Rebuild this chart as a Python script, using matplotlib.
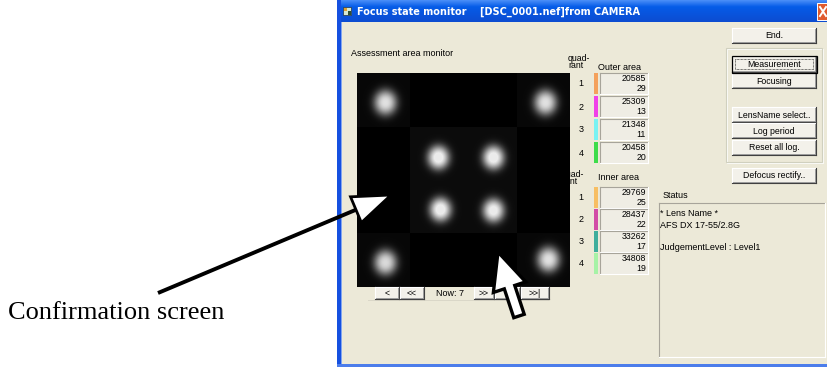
import numpy as np
import matplotlib
matplotlib.use("Agg")
import matplotlib.pyplot as plt
from matplotlib.patches import Rectangle, Polygon

# ---------------- data ----------------
title_text = "Focus state monitor    [DSC_0001.nef]from CAMERA"
quadrants = ["1", "2", "3", "4"]
outer_values = [20585, 25309, 21348, 20458]
outer_counts = [29, 13, 11, 20]
outer_colors = ["#F4A15C", "#F040E8", "#78F2F2", "#3EDC4A"]
inner_values = [29769, 28437, 33262, 34808]
inner_counts = [25, 22, 17, 19]
inner_colors = ["#F7BE62", "#D24CA6", "#3FAE9C", "#A6F2A6"]
right_buttons = ["End.", "Measurement", "Focusing", "LensName select..", "Log period",
                 "Reset all log.", "Defocus rectify.."]
nav_buttons = ["<", "<<", ">>", ">", ">>|"]
nav_label = "Now: 7"
status_lines = ["* Lens Name *", "AFS DX 17-55/2.8G", "", "JudgementLevel : Level1"]
blob_x = [385, 545, 385, 548, 438, 493, 440, 493]
blob_y = [102, 102, 262, 259, 157, 157, 209, 210]
blob_peak = [0.85, 0.85, 0.82, 0.85, 0.95, 0.95, 0.95, 0.92]
caption = "Confirmation screen"

BG = "#ECE9D8"
UI = "Liberation Sans"

fig = plt.figure(figsize=(8.27, 3.67), dpi=100)
ax = fig.add_axes([0, 0, 1, 1])
ax.set_xlim(0, 827)
ax.set_ylim(367, 0)
ax.axis("off")

# ---------------- window ----------------
ax.add_patch(Rectangle((337, 0), 490, 367, fc=BG, ec="none", zorder=0))
top = np.array([0.28, 0.55, 0.97]); mid = np.array([0.02, 0.36, 0.91]); bot = np.array([0.05, 0.30, 0.82])
cols = np.zeros((22, 2, 3))
for i in range(22):
    t = i / 21
    c = top + (mid - top) * (t / 0.3) if t < 0.3 else mid + (bot - mid) * ((t - 0.3) / 0.7)
    cols[i, :, :] = c
ax.imshow(cols, extent=(337, 827, 22, 0), aspect="auto", zorder=1, interpolation="bilinear")
ax.add_patch(Rectangle((337, 0), 3.5, 367, fc="#1550E0", ec="none", zorder=2))
ax.add_patch(Rectangle((337, 363.5), 490, 3.5, fc="#4C7DEB", ec="none", zorder=2))
ax.plot([340.5, 340.5], [22, 363], color="#7FA3F0", lw=0.7, zorder=2)
ax.add_patch(Rectangle((343, 7), 8, 8, fc="#D8E8D0", ec="#203040", lw=0.5, zorder=3))
ax.add_patch(Rectangle((344, 8), 3, 3, fc="#E0A030", ec="none", zorder=3))
ax.add_patch(Rectangle((347.5, 11), 3, 4, fc="#305030", ec="none", zorder=3))
ax.text(357, 12, title_text, color="white", fontsize=7, fontweight="bold", family="DejaVu Sans",
        va="center", ha="left", zorder=3)
ax.add_patch(Rectangle((817, 3), 14, 17, fc="#E05A2E", ec="white", lw=0.7, zorder=3))
ax.plot([820, 826], [7, 16], color="white", lw=1.4, zorder=4)
ax.plot([820, 826], [16, 7], color="white", lw=1.4, zorder=4)


def button(x0, y0, x1, y1, label, focus=False, fs=6.3):
    ax.add_patch(Rectangle((x0, y0), x1 - x0, y1 - y0, fc="#F3F1EA", ec="none", zorder=3))
    ax.plot([x0, x1], [y0, y0], color="white", lw=0.8, zorder=4)
    ax.plot([x0, x0], [y0, y1], color="white", lw=0.8, zorder=4)
    ax.plot([x0 + 1, x1 - 1], [y1 - 1, y1 - 1], color="#A0A0A0", lw=0.7, zorder=4)
    ax.plot([x1 - 1, x1 - 1], [y0 + 1, y1 - 1], color="#A0A0A0", lw=0.7, zorder=4)
    ax.plot([x0, x1], [y1, y1], color="#404040", lw=0.8, zorder=4)
    ax.plot([x1, x1], [y0, y1], color="#404040", lw=0.8, zorder=4)
    if focus:
        ax.add_patch(Rectangle((x0 - 0.5, y0 - 0.5), x1 - x0 + 1, y1 - y0 + 1, fc="none",
                               ec="black", lw=0.9, zorder=5))
        ax.add_patch(Rectangle((x0 + 3, y0 + 3), x1 - x0 - 6, y1 - y0 - 6, fc="none",
                               ec="black", lw=0.5, ls=(0, (1, 1)), zorder=5))
    ax.text((x0 + x1) / 2, (y0 + y1) / 2 + 0.5, label, fontsize=fs, family=UI,
            ha="center", va="center", zorder=5)


def sunken(x0, y0, x1, y1, fc="#EFEDE4"):
    ax.add_patch(Rectangle((x0, y0), x1 - x0, y1 - y0, fc=fc, ec="none", zorder=3))
    ax.plot([x0, x1], [y0, y0], color="#A7A49A", lw=0.8, zorder=4)
    ax.plot([x0, x0], [y0, y1], color="#A7A49A", lw=0.8, zorder=4)
    ax.plot([x0, x1], [y1, y1], color="white", lw=0.8, zorder=4)
    ax.plot([x1, x1], [y0, y1], color="white", lw=0.8, zorder=4)


# ---------------- left panel ----------------
ax.text(351, 54, "Assessment area monitor", fontsize=6.5, family=UI, va="center", ha="left", zorder=3)
ax.plot([368, 548], [300, 300], color="#DAD7C8", lw=0.7, zorder=2)

H, W = 214, 213
yy, xx = np.mgrid[0:H, 0:W]
pic = np.zeros((H, W))
cb = [0, 53, 160, W]
rb = [0, 54, 160, H]
for (ci, ri) in [(0, 0), (2, 0), (0, 2), (2, 2)]:
    pic[rb[ri]:rb[ri + 1], cb[ci]:cb[ci + 1]] = 0.03
pic[rb[1]:rb[2], cb[1]:cb[2]] = 0.045
for bx, by, pk in zip(blob_x, blob_y, blob_peak):
    cx, cy = bx - 357, by - 73
    s = 7.6 if 410 < bx < 517 else 8.0
    r2 = (xx - cx) ** 2 / (s * s) + (yy - cy) ** 2 / ((s * 1.1) ** 2)
    pic += pk * np.exp(-(r2 / 2.0) ** 1.3)
pic = np.minimum(pic, 0.92)
ax.imshow(pic, cmap="gray", vmin=0, vmax=1, extent=(357, 570, 287, 73), aspect="auto",
          zorder=3, interpolation="bilinear")

nav_x = [(375, 399), (400, 424), (474, 494), (495, 520), (521, 549)]
for (a, b), lab in zip(nav_x, nav_buttons):
    button(a, 287, b, 299, lab, fs=6.3)
ax.text(450, 293.5, nav_label, fontsize=6.5, family=UI, ha="center", va="center", zorder=5)

# ---------------- quadrant table ----------------
ax.text(568, 62, "quad-\nrant", fontsize=6.3, family=UI, ha="left", va="center",
        linespacing=0.85, zorder=6)
ax.text(598, 67, "Outer area", fontsize=6.5, family=UI, ha="left", va="center", zorder=5)
ax.text(562, 178, "quad-\nrant", fontsize=6.3, family=UI, ha="left", va="center",
        linespacing=0.85, zorder=6)
ax.text(598, 178, "Inner area", fontsize=6.5, family=UI, ha="left", va="center", zorder=5)

outer_top = [73, 96, 119, 142]
inner_top = [187, 209, 231, 253]
for tops, vals, cnts, colors in [(outer_top, outer_values, outer_counts, outer_colors),
                                 (inner_top, inner_values, inner_counts, inner_colors)]:
    for q, t, v, c, col in zip(quadrants, tops, vals, cnts, colors):
        ax.add_patch(Rectangle((594, t), 4, 21, fc=col, ec="none", zorder=4))
        sunken(600, t, 648, t + 21)
        ax.text(646, t + 5.5, str(v), fontsize=6.3, family=UI, ha="right", va="center", zorder=5)
        ax.text(646, t + 15.5, str(c), fontsize=6.3, family=UI, ha="right", va="center", zorder=5)
        ax.text(581, t + 11, q, fontsize=6.5, family=UI, ha="center", va="center", zorder=5)

# ---------------- right buttons ----------------
button(732, 28, 816, 43, right_buttons[0])
ax.add_patch(Rectangle((725.5, 48), 96, 114, fc="none", ec="#D0D0BF", lw=0.8, zorder=3))
ax.add_patch(Rectangle((726.5, 49), 96, 114, fc="none", ec="white", lw=0.6, zorder=2))
btn_y = [(56, 72), (73, 88), (107, 122), (123, 138), (140, 155)]
for (a, b), lab in zip(btn_y, right_buttons[1:6]):
    button(732, a, 816, b, lab, focus=(lab == "Measurement"))
button(732, 168, 816, 183, right_buttons[6])

# ---------------- status ----------------
ax.text(663, 196, "Status", fontsize=6.5, family=UI, ha="left", va="center", zorder=5)
sunken(659, 203, 825, 357, fc=BG)
sy = 214
for line in status_lines:
    if line:
        ax.text(660, sy, line, fontsize=6.5, family=UI, ha="left", va="center", zorder=5)
    sy += 11

# ---------------- annotation arrows ----------------
def open_arrow(tail, tip, head_len, head_w, lw):
    tail = np.array(tail, float); tip = np.array(tip, float)
    u = (tip - tail) / np.linalg.norm(tip - tail)
    n = np.array([-u[1], u[0]])
    base = tip - head_len * u
    ax.plot([tail[0], base[0] + 3 * u[0]], [tail[1], base[1] + 3 * u[1]], color="black",
            lw=lw, solid_capstyle="butt", zorder=8)
    ax.add_patch(Polygon([tip, base + head_w * n, base - head_w * n], closed=True,
                         fc="white", ec="black", lw=2.0, joinstyle="miter", zorder=9))


open_arrow((158, 293), (391, 195), 38, 14, 2.8)

tip = np.array([498.0, 252.0]); tail = np.array([519.0, 316.0])
u = (tail - tip) / np.linalg.norm(tail - tip)
n = np.array([-u[1], u[0]])
hb = tip + 37 * u
poly = [tip, hb + 17 * n, hb + 5.5 * n, tail + 5.5 * n, tail - 5.5 * n, hb - 5.5 * n, hb - 17 * n]
ax.add_patch(Polygon(poly, closed=True, fc="white", ec="black", lw=2.4, joinstyle="miter", zorder=9))

ax.text(8, 313, caption, fontsize=19, family="Liberation Serif", ha="left", va="center", zorder=5)

fig.savefig("out.png", dpi=100, facecolor="white")
